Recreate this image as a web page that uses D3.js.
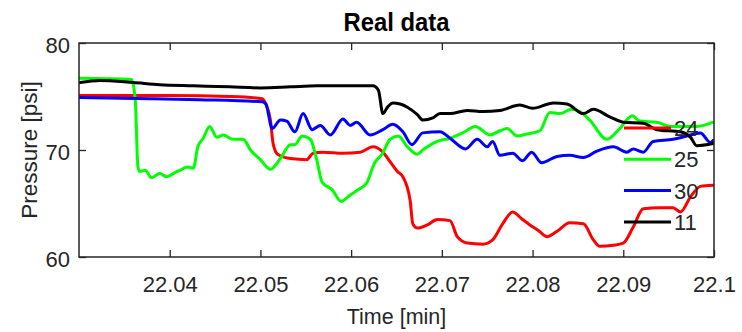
<!DOCTYPE html>
<html><head><meta charset="utf-8">
<script src="https://cdn.jsdelivr.net/npm/d3@7"></script>
<style>body{margin:0;background:#fff}svg{display:block}</style>
</head><body><svg id="c" width="742" height="332"></svg>
<script>
const title = "Real data";
const xLabel = "Time [min]";
const yLabel = "Pressure [psi]";
const seriesNames = ["24", "25", "30", "11"];
const seriesColors = ["#ff0000", "#00ff00", "#0000ff", "#000000"];
const xDomain = [22.03, 22.1];
const yDomain = [60, 80];
const xTicks = [22.04, 22.05, 22.06, 22.07, 22.08, 22.09, 22.1];
const xTickLabels = ["22.04", "22.05", "22.06", "22.07", "22.08", "22.09", "22.1"];
const yTicks = [60, 70, 80];

// series 24 (red)
const t24 = [22.0301,22.0400,22.0466,22.0502,22.0506,22.0511,22.0514,22.0519,22.0533,22.0551,22.0558,22.0569,22.0591,22.0610,22.0624,22.0635,22.0643,22.0651,22.0657,22.0665,22.0668,22.0673,22.0684,22.0695,22.0709,22.0717,22.0728,22.0745,22.0756,22.0767,22.0778,22.0789,22.0797,22.0806,22.0816,22.0827,22.0841,22.0856,22.0867,22.0874,22.0889,22.0900,22.0911,22.0922,22.0940,22.0955,22.0963,22.0974,22.0985,22.0999];
const v24 = [75.1,75.1,75.0,74.8,74.3,72.8,70.6,69.6,69.2,69.1,69.7,69.8,69.7,69.8,70.3,69.8,68.9,68.0,67.5,65.3,63.1,62.7,63.0,63.5,63.4,61.9,61.3,61.2,61.6,63.1,64.2,63.5,63.0,62.5,61.9,62.4,63.2,63.1,61.6,61.0,61.1,61.3,62.8,64.5,64.6,64.6,64.2,65.6,66.6,66.7];

// series 25 (green)
const t25 = [22.0301,22.0358,22.0362,22.0365,22.0367,22.0373,22.0380,22.0389,22.0397,22.0404,22.0411,22.0420,22.0426,22.0431,22.0437,22.0444,22.0452,22.0459,22.0470,22.0481,22.0489,22.0500,22.0511,22.0522,22.0533,22.0538,22.0546,22.0555,22.0562,22.0568,22.0579,22.0589,22.0599,22.0608,22.0617,22.0626,22.0634,22.0643,22.0652,22.0662,22.0673,22.0679,22.0695,22.0709,22.0723,22.0737,22.0753,22.0764,22.0772,22.0783,22.0794,22.0808,22.0819,22.0830,22.0843,22.0852,22.0863,22.0882,22.0896,22.0910,22.0918,22.0937,22.0952,22.0966,22.0981,22.0999];
const v25 = [76.7,76.6,74.7,68.4,68.0,68.1,67.4,67.8,67.5,67.8,68.1,68.4,68.3,70.3,71.1,72.2,71.2,71.4,71.0,71.0,70.0,69.1,68.2,69.2,70.5,70.5,71.3,71.0,69.1,67.0,66.3,65.2,65.8,66.3,66.9,68.8,69.6,71.0,71.3,70.3,69.6,70.0,70.8,71.1,71.6,72.2,71.4,71.8,72.0,71.3,71.5,71.8,73.5,73.4,73.8,73.6,72.8,71.0,72.0,73.2,72.7,72.6,72.2,72.2,72.2,72.6];

// series 30 (blue)
const t30 = [22.0301,22.0378,22.0433,22.0502,22.0506,22.0513,22.0522,22.0529,22.0538,22.0547,22.0557,22.0566,22.0577,22.0591,22.0599,22.0606,22.0621,22.0635,22.0646,22.0657,22.0667,22.0679,22.0698,22.0709,22.0726,22.0739,22.0750,22.0756,22.0764,22.0778,22.0789,22.0799,22.0810,22.0827,22.0841,22.0856,22.0871,22.0889,22.0904,22.0911,22.0922,22.0933,22.0955,22.0970,22.0985,22.0996,22.0999];
const v30 = [74.9,74.8,74.7,74.5,74.3,72.0,72.8,72.7,71.7,73.4,71.9,72.3,71.4,72.9,72.3,72.6,71.4,71.9,72.4,71.7,70.5,71.6,71.7,71.1,70.1,71.0,70.3,70.8,69.5,69.7,69.0,69.8,68.8,69.4,69.5,69.3,69.9,70.3,69.8,70.1,69.8,70.8,71.0,71.3,71.6,70.7,70.9];

// series 11 (black)
const t11 = [22.0301,22.0323,22.0360,22.0389,22.0426,22.0466,22.0500,22.0533,22.0562,22.0599,22.0624,22.0630,22.0635,22.0640,22.0646,22.0654,22.0662,22.0673,22.0679,22.0690,22.0698,22.0709,22.0728,22.0745,22.0764,22.0786,22.0800,22.0823,22.0838,22.0856,22.0867,22.0885,22.0900,22.0922,22.0937,22.0963,22.0974,22.0981,22.0999];
const v11 = [76.3,76.5,76.3,76.1,76.0,75.9,75.8,75.9,76.0,76.0,76.0,75.6,73.4,74.0,74.4,74.3,74.0,73.3,72.8,73.0,73.4,73.4,73.7,73.6,73.7,74.2,73.9,74.4,74.3,73.4,73.8,73.1,72.6,72.5,71.9,71.7,71.2,70.4,70.6];

const seriesTimes = [t24, t25, t30, t11];
const seriesValues = [v24, v25, v30, v11];

const W = 742, H = 332;
const m = {left: 79, top: 43, right: 28, bottom: 75};
const pw = W - m.left - m.right, ph = H - m.top - m.bottom;
const axisColor = "#262626";
const FONT = "'Liberation Sans', Arial, sans-serif";

const svg = d3.select("#c");
const g = svg.append("g").attr("transform", `translate(${m.left},${m.top})`);
const x = d3.scaleLinear().domain(xDomain).range([0, pw]);
const y = d3.scaleLinear().domain(yDomain).range([ph, 0]);

svg.append("defs").append("clipPath").attr("id", "clip")
  .append("rect").attr("width", pw).attr("height", ph);

// lines
const line = d3.line().x(d => x(d[0])).y(d => y(d[1])).curve(d3.curveMonotoneX);
const lg = g.append("g").attr("clip-path", "url(#clip)");
seriesNames.forEach((n, i) => {
  const pts = seriesTimes[i].map((t, j) => [t, seriesValues[i][j]]);
  lg.append("path").datum(pts).attr("d", line)
    .attr("fill", "none").attr("stroke", seriesColors[i])
    .attr("stroke-width", 3).attr("stroke-linejoin", "round").attr("stroke-linecap", "round");
});

// axes
function style(sel) {
  sel.select(".domain").remove();
  sel.selectAll("line").attr("stroke", axisColor).attr("stroke-width", 1.3);
  sel.selectAll("text").attr("fill", axisColor).style("font-family", FONT).style("font-size", "22px");
}
const fmt = d => xTickLabels[xTicks.indexOf(d)];
g.append("g").attr("transform", `translate(0,${ph})`)
  .call(d3.axisBottom(x).tickValues(xTicks).tickFormat(fmt).tickSizeInner(-7).tickSizeOuter(0).tickPadding(19))
  .call(style);
g.append("g")
  .call(d3.axisTop(x).tickValues(xTicks).tickFormat("").tickSizeInner(-7).tickSizeOuter(0))
  .call(style);
g.append("g")
  .call(d3.axisLeft(y).tickValues(yTicks).tickFormat(d3.format("d")).tickSizeInner(-7).tickSizeOuter(0).tickPadding(9))
  .call(style)
  .selectAll("text").attr("dy", "0.42em");
g.append("g").attr("transform", `translate(${pw},0)`)
  .call(d3.axisRight(y).tickValues(yTicks).tickFormat("").tickSizeInner(-7).tickSizeOuter(0))
  .call(style);
g.append("rect").attr("width", pw).attr("height", ph)
  .attr("fill", "none").attr("stroke", axisColor).attr("stroke-width", 1.5);

// legend
const leg = g.append("g");
seriesNames.forEach((n, i) => {
  const ly = 85 + i * 31.3;
  leg.append("line").attr("x1", 545).attr("x2", 592).attr("y1", ly).attr("y2", ly)
    .attr("stroke", seriesColors[i]).attr("stroke-width", 3);
  leg.append("text").attr("x", 595).attr("y", ly).attr("dy", "0.36em")
    .attr("fill", axisColor).style("font-family", FONT).style("font-size", "22px").text(n);
});

// labels
svg.append("text").attr("transform", `translate(${m.left + pw / 2},30.5) scale(0.9,1)`).attr("text-anchor", "middle")
  .style("font-family", FONT).style("font-size", "26.5px").style("font-weight", "bold")
  .attr("fill", "#000").text(title);
svg.append("text").attr("x", m.left + pw / 2).attr("y", 324).attr("text-anchor", "middle")
  .style("font-family", FONT).style("font-size", "21.5px").attr("fill", axisColor).text(xLabel);
svg.append("text").attr("transform", `translate(37,${m.top + ph / 2}) rotate(-90)`).attr("text-anchor", "middle")
  .style("font-family", FONT).style("font-size", "22.5px").attr("fill", axisColor).text(yLabel);
</script>
</body></html>
